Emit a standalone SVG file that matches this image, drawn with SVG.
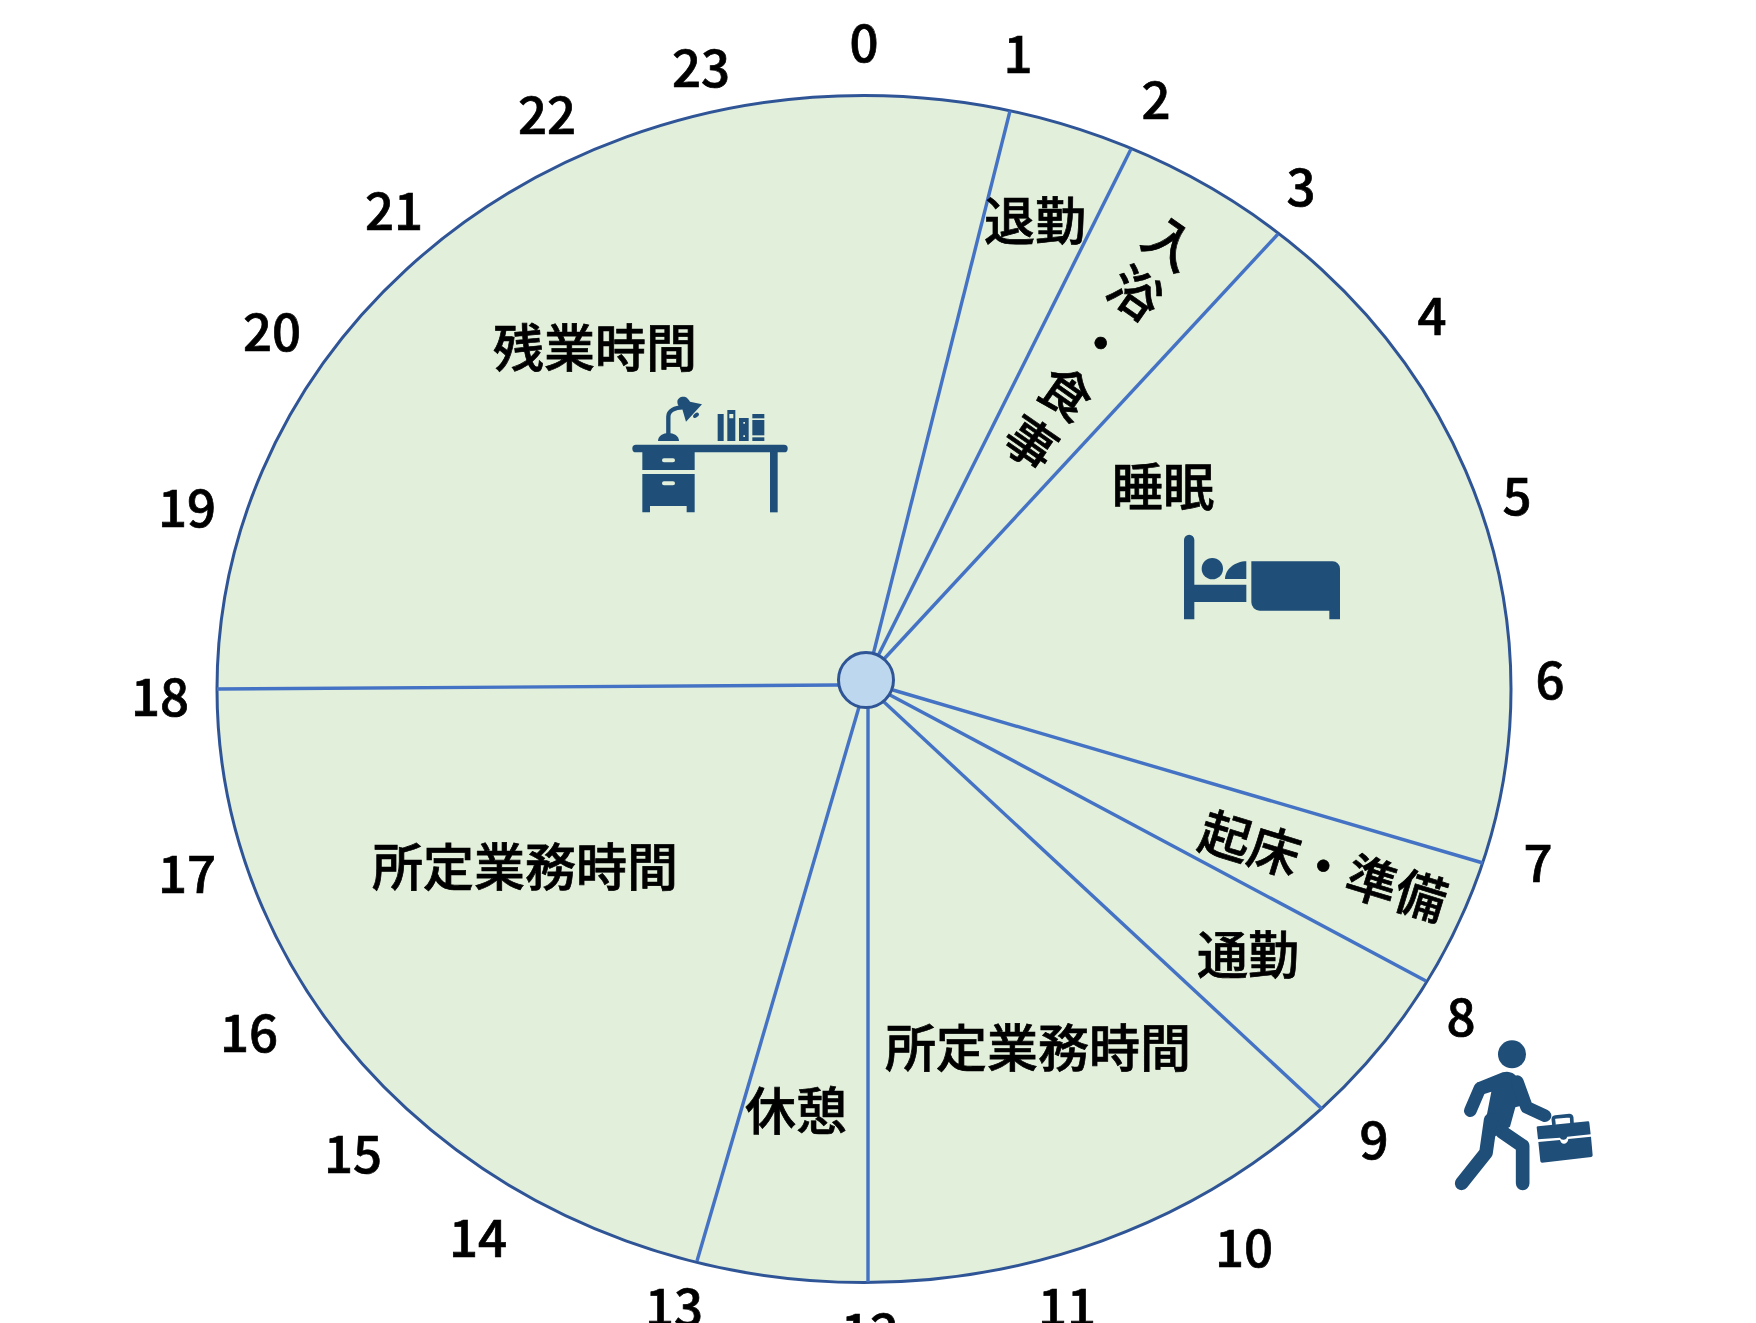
<svg xmlns="http://www.w3.org/2000/svg" width="1756" height="1323" viewBox="0 0 1756 1323">
<style>
text{font-family:"Noto Sans CJK JP","Noto Sans",sans-serif;font-size:51px;font-weight:500;fill:#000;stroke:#000;stroke-width:.7px;text-anchor:middle}
.r{stroke:#4472C4;stroke-width:3.400;fill:none}
.i{fill:#1F4E79}
.l{fill:none;stroke:#1F4E79;stroke-linecap:round;stroke-linejoin:round}
</style>
<rect width="1756" height="1323" fill="#fff"/>
<g id="clock-face"><ellipse cx="864" cy="689" rx="647" ry="593.500" fill="#E2EFDA" stroke="#2F5597" stroke-width="3"/></g>
<g id="connectors">
<line class="r" x1="873" y1="655" x2="1010" y2="111"/>
<line class="r" x1="878" y1="656" x2="1131" y2="149"/>
<line class="r" x1="884" y1="659" x2="1278" y2="234"/>
<line class="r" x1="893" y1="690" x2="1483" y2="863"/>
<line class="r" x1="890" y1="695" x2="1426" y2="981"/>
<line class="r" x1="884" y1="702" x2="1322" y2="1109"/>
<line class="r" x1="868" y1="708" x2="868" y2="1282"/>
<line class="r" x1="859" y1="707" x2="697" y2="1261"/>
<line class="r" x1="838" y1="685" x2="217" y2="689"/>
</g>
<g id="hub"><circle cx="866" cy="680" r="27.500" fill="#BDD7EE" stroke="#2F5597" stroke-width="3"/></g>
<g id="hour-labels">
<text x="864" y="62">0</text>
<text x="1018" y="73">1</text>
<text x="1156" y="119">2</text>
<text x="1301" y="206">3</text>
<text x="1432" y="335">4</text>
<text x="1517" y="515">5</text>
<text x="1550" y="699">6</text>
<text x="1538" y="882">7</text>
<text x="1461" y="1036">8</text>
<text x="1374" y="1159">9</text>
<text x="1244" y="1267">10</text>
<text x="1067" y="1326">11</text>
<text x="870" y="1351">12</text>
<text x="674" y="1326">13</text>
<text x="478" y="1257">14</text>
<text x="353" y="1173">15</text>
<text x="249" y="1052">16</text>
<text x="187" y="893">17</text>
<text x="160" y="716">18</text>
<text x="187" y="527">19</text>
<text x="272" y="351">20</text>
<text x="394" y="230">21</text>
<text x="547" y="134">22</text>
<text x="701" y="87">23</text>
</g>
<g id="label-taikin"><text x="1035" y="240">退勤</text></g>
<g id="label-nyuyoku"><text transform="translate(1098,347) rotate(35)" writing-mode="vertical-rl" letter-spacing="10">入浴・食事</text></g>
<g id="label-zangyo"><text x="595" y="367">残業時間</text></g>
<g id="label-suimin"><text x="1163" y="506">睡眠</text></g>
<g id="label-kisho"><text transform="translate(1323,867) rotate(17)" y="18">起床・準備</text></g>
<g id="label-tsukin"><text x="1248" y="974">通勤</text></g>
<g id="label-shotei1"><text x="525" y="886">所定業務時間</text></g>
<g id="label-shotei2"><text x="1038" y="1067">所定業務時間</text></g>
<g id="label-kyukei"><text x="796" y="1130">休憩</text></g>
<g id="desk-icon" transform="translate(600,370) scale(.33333)">
<rect class="i" x="97" y="224" width="466" height="23" rx="11"/>
<path class="i" fill-rule="evenodd" d="M127 240H284V300H127ZM192 265a6 6 0 0 0 0 12H219a6 6 0 0 0 0-12Z"/>
<path class="i" fill-rule="evenodd" d="M127 312H284V427H260V408H150V427H127ZM192 334a6 6 0 0 0 0 12H219a6 6 0 0 0 0-12Z"/>
<rect class="i" x="510" y="240" width="23" height="187"/>
<path class="i" d="M174 213C174 197 190 189 205 189C221 189 237 197 237 213Z"/>
<path class="l" style="stroke-linecap:butt" stroke-width="13" d="M205 192V140C205 122 225 112 248 112"/>
<path class="i" d="M232 96C232 84 244 78 256 81C262 83 268 92 270 95L306 103L258 155L247 118C238 112 232 106 232 96Z"/>
<ellipse class="i" cx="288" cy="136" rx="10" ry="6" transform="rotate(-40 288 136)"/>
<rect class="i" x="353" y="132" width="18" height="81"/>
<path class="i" fill-rule="evenodd" d="M382 120H406V213H382ZM388 132V145H400V132Z"/>
<path class="i" fill-rule="evenodd" d="M417 144H446V213H417ZM430 156V161H435V156ZM430 196V201H435V196Z"/>
<rect class="i" x="457" y="132" width="36" height="13"/>
<rect class="i" x="457" y="150" width="36" height="46"/>
<rect class="i" x="457" y="202" width="36" height="11"/>
</g>
<g id="bed-icon" transform="translate(1160,510) scale(.33333)">
<path class="i" d="M72 90a15.500 15.500 0 0 1 31 0V224H259V276H103V328H72Z"/>
<circle class="i" cx="157" cy="176" r="32"/>
<path class="i" d="M195 207C195 178 225 154 259 154V207Z"/>
<path class="i" d="M274 154H518A22 22 0 0 1 540 176V328H508V302H299A25 25 0 0 1 274 277Z"/>
</g>
<g id="walker-icon" transform="translate(1430,1020) scale(.33333)">
<circle class="i" cx="246" cy="103" r="42"/>
<path class="i" d="M140 188L218 157C240 150 258 162 266 180L300 250L256 262L240 320L200 345L150 390L184 215L163 222Z"/>
<path class="l" stroke-width="38" d="M150 205L121 272"/>
<path class="l" stroke-width="38" d="M262 185L290 262L345 287"/>
<path class="l" stroke-width="41" d="M182 300L168 398L95 490"/>
<path class="l" stroke-width="41" d="M215 335L278 378V490"/>
<path class="i" d="M320 322Q320 319 324 319L474 304Q478 304 478 308L482 343L412 350Q410 358 402 359Q392 360 390 353L324 358Z"/>
<path class="i" d="M325 366L390 360Q393 372 403 371Q413 370 415 357L483 350L488 406Q488 410 484 411L336 428Q332 428 331 424Z"/>
<path class="l" stroke-width="11" style="stroke-linecap:butt" d="M372 315L370 298Q370 292 376 291L418 287Q424 287 425 293L426 311"/>
</g>
</svg>
